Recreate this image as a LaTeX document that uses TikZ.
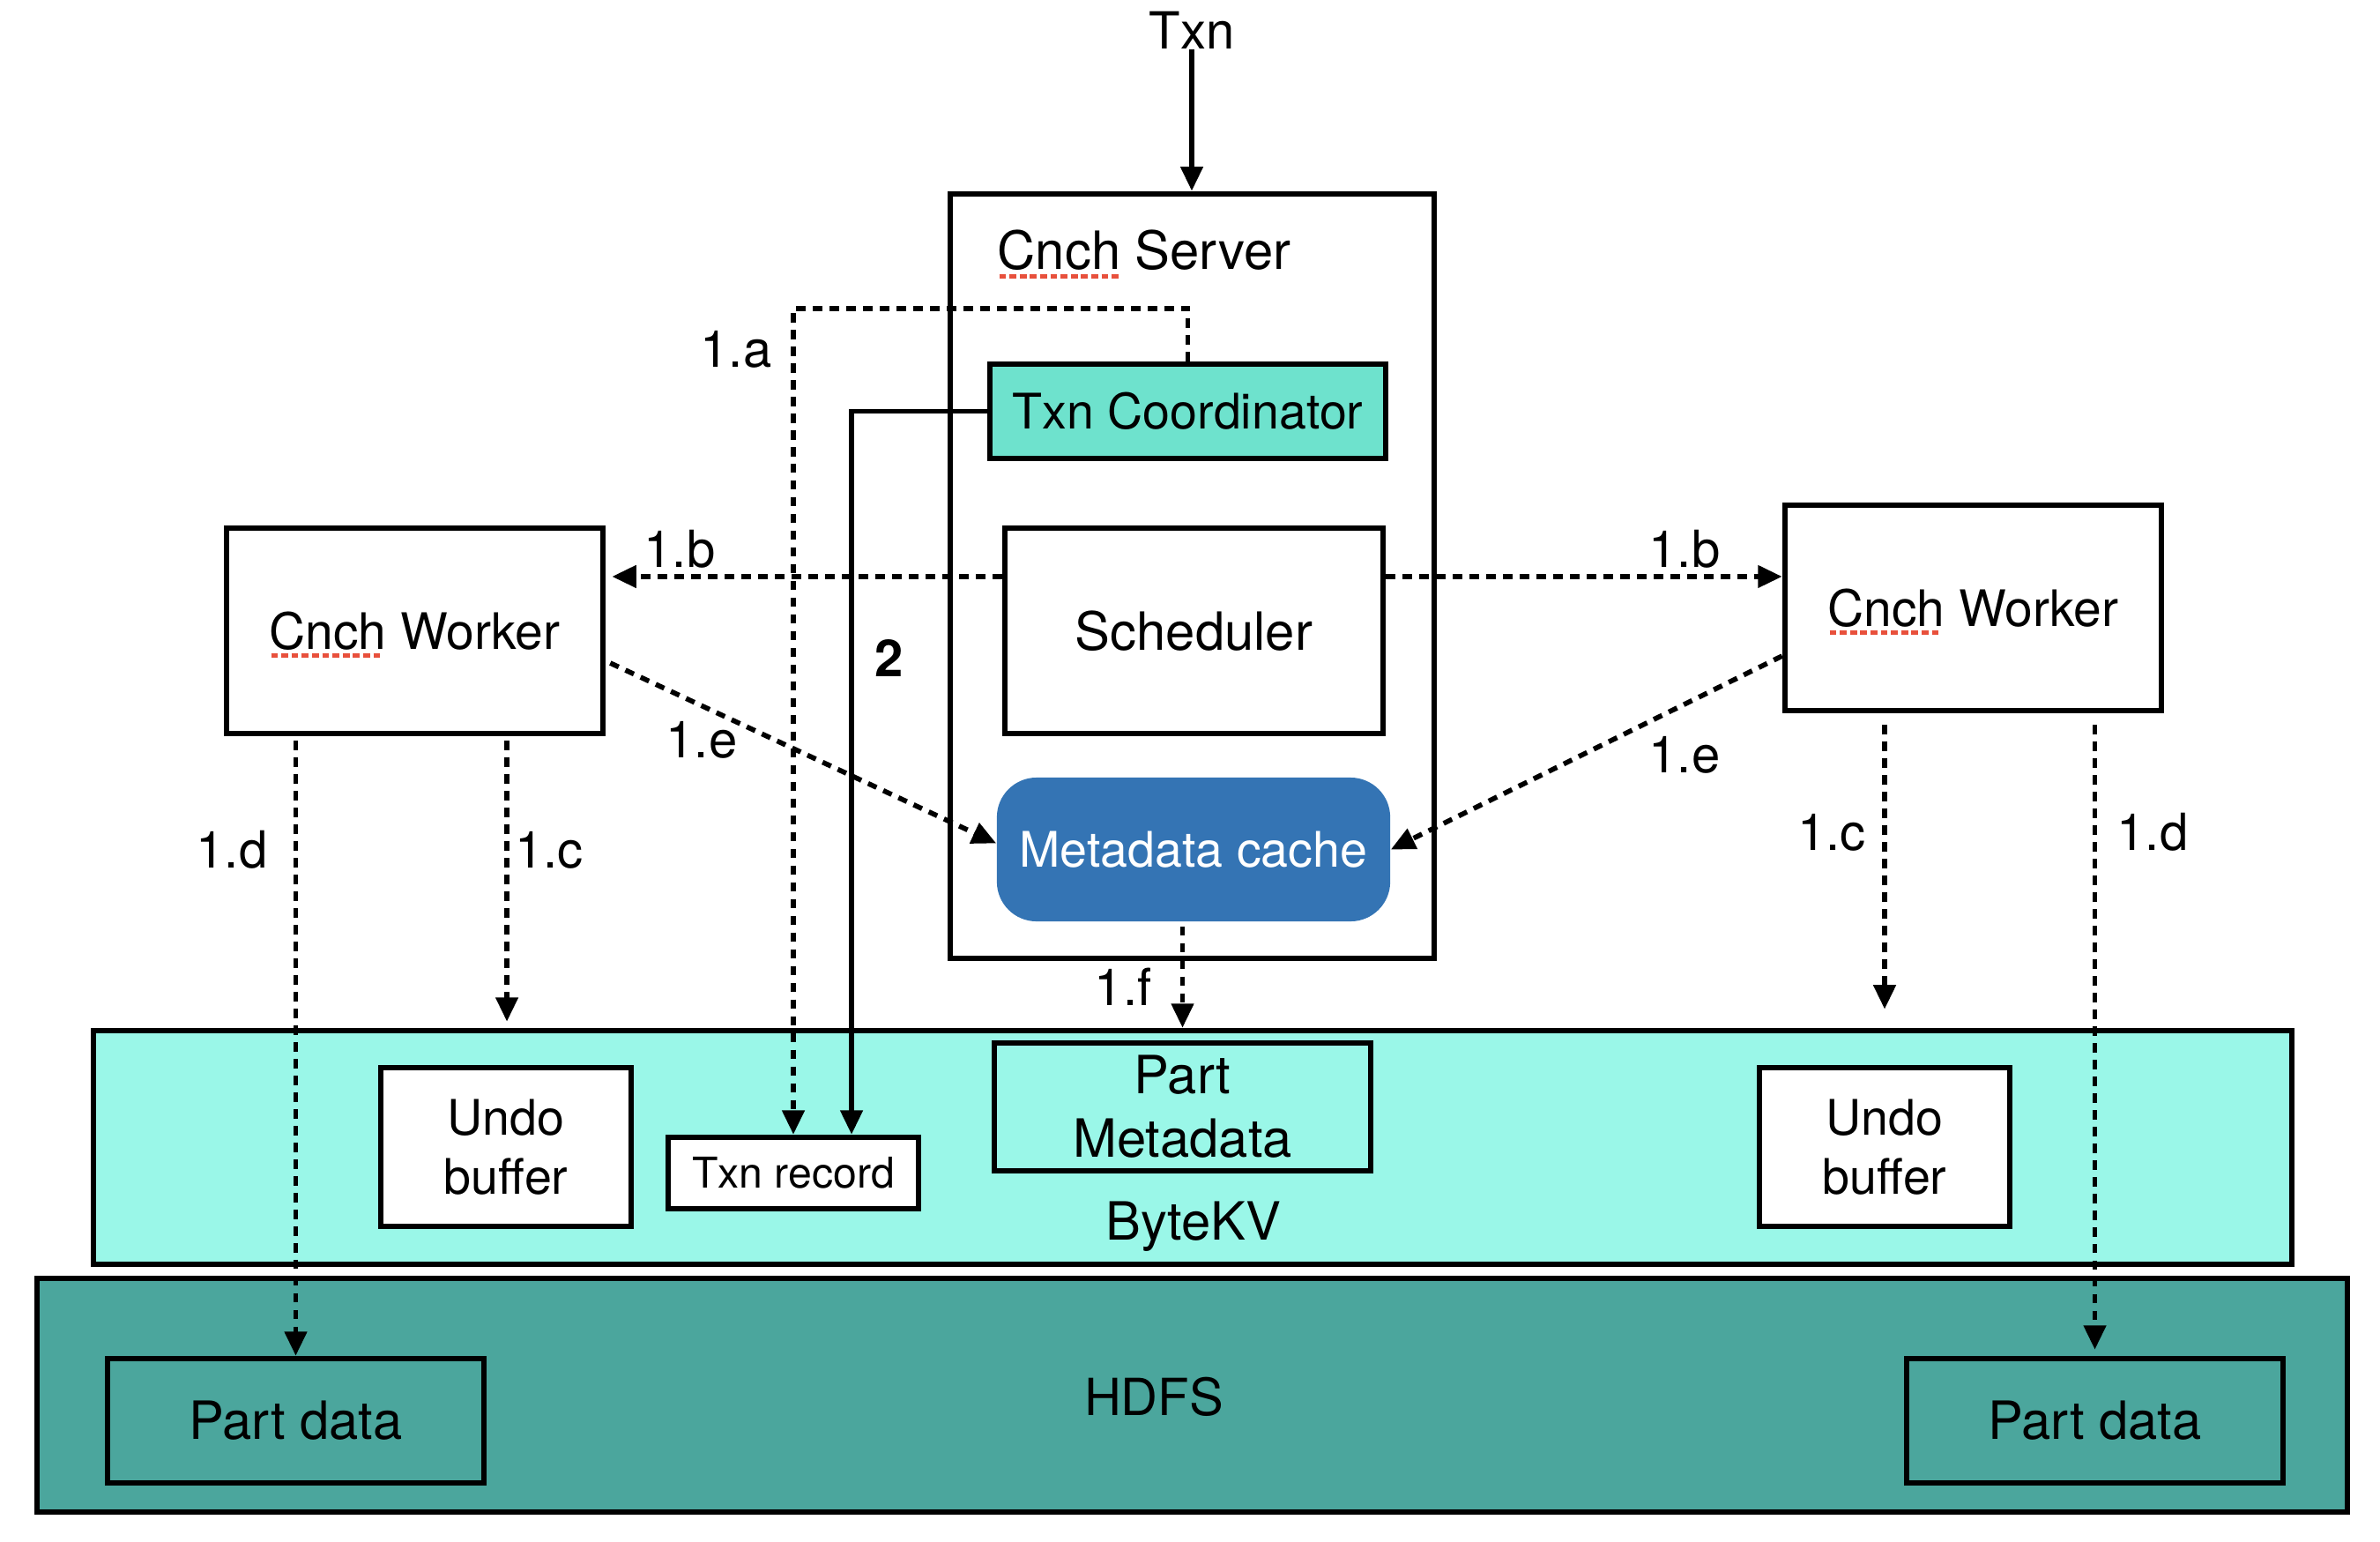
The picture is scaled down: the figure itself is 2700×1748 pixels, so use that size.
\documentclass[tikz,border=0pt]{standalone}
\usepackage{fontspec}
\setmainfont{TeX Gyre Heros}
\usetikzlibrary{arrows.meta,calc}

\definecolor{coordfill}{RGB}{110,226,205}
\definecolor{cachefill}{RGB}{52,116,180}
\definecolor{kvfill}{RGB}{154,247,232}
\definecolor{hdfsfill}{RGB}{75,166,157}
\definecolor{spellred}{RGB}{232,80,60}

\newsavebox\squigbox
\newcommand\squig[1]{\sbox\squigbox{#1}\rlap{\smash{\raisebox{-2.9pt}{\textcolor{spellred}{\hbox to \wd\squigbox{\leaders\hbox to 3.3pt{\hss\rule{2.2pt}{1.5pt}\hss}\hfill}}}}}\usebox\squigbox}

\tikzset{
  box/.style={draw, line width=1.8pt, inner sep=0pt, align=center, font=\fontsize{16.5}{19.5}\selectfont},
  lbl/.style={inner sep=0pt, font=\fontsize{16.5}{19.5}\selectfont},
  dasharrow/.style={line width=1.6pt, dash pattern=on 3pt off 2.4pt, -{Triangle[length=7.8pt,width=7pt]}},
  solidarrow/.style={line width=1.6pt, -{Triangle[length=7.8pt,width=7pt]}},
}

\begin{document}
\begin{tikzpicture}[x=0.01cm, y=-0.01cm]
	%%%%% START %%%%%
	\useasboundingbox (0,0) rectangle (2700,1748);
	
	% storage layers
	\node[box, fill=kvfill, minimum width=24.92cm, minimum height=2.65cm] (bytekv) at (1353,1301.5) {};
	\node[box, fill=hdfsfill, minimum width=26.19cm, minimum height=2.65cm] (hdfs) at (1352.5,1582.5) {};
	\node[lbl, font=\fontsize{17}{20}\selectfont] (kvtxt) at (1354,1391) {ByteKV};
	\node[lbl] (hdfstxt) at (1309,1584) {HDFS};
	
	\node[box, fill=white, minimum width=2.84cm, minimum height=1.8cm, font=\fontsize{15.8}{19}\selectfont] (undol) at (574,1301) {Undo\\buffer};
	\node[box, fill=white, minimum width=2.84cm, minimum height=0.81cm, font=\fontsize{13.7}{16}\selectfont] (rec) at (900,1330.5) {Txn record};
	\node[box, minimum width=4.27cm, minimum height=1.45cm, font=\fontsize{17}{20.5}\selectfont] (pm) at (1341.5,1255.5) {Part\\Metadata};
	\node[box, fill=white, minimum width=2.84cm, minimum height=1.8cm, font=\fontsize{15.8}{19}\selectfont] (undor) at (2138,1301) {Undo\\buffer};
	
	\node[box, minimum width=4.27cm, minimum height=1.41cm, font=\fontsize{17}{20}\selectfont] (pdl) at (335.5,1611.5) {Part data};
	\node[box, minimum width=4.27cm, minimum height=1.41cm, font=\fontsize{17}{20}\selectfont] (pdr) at (2376.5,1611.5) {Part data};
	
	% server
	\node[lbl] (txn) at (1352,34) {Txn};
	\node[box, minimum width=5.49cm, minimum height=8.67cm] (server) at (1352.5,653.5) {};
	\node[lbl, anchor=west, font=\fontsize{17}{20}\selectfont] (servertxt) at (1131,284) {\squig{Cnch} Server};
	\node[box, fill=coordfill, minimum width=4.49cm, minimum height=1.07cm, font=\fontsize{15.8}{19}\selectfont] (coord) at (1347.5,466.5) {Txn Coordinator};
	\node[box, minimum width=4.29cm, minimum height=2.33cm, font=\fontsize{17}{20}\selectfont] (sched) at (1354.5,715.5) {Scheduler};
	\node[draw=none, fill=cachefill, rounded corners=0.45cm, minimum width=4.46cm, minimum height=1.63cm, inner sep=0pt, text=white, font=\fontsize{15.8}{19}\selectfont] (cache) at (1354,963.5) {Metadata cache};
	
	% workers
	\node[box, minimum width=4.27cm, minimum height=2.33cm, font=\fontsize{16.2}{19}\selectfont] (lworker) at (470.5,715.5) {\squig{Cnch} Worker};
	\node[box, minimum width=4.27cm, minimum height=2.33cm, font=\fontsize{16.2}{19}\selectfont] (rworker) at (2238.5,689.5) {\squig{Cnch} Worker};
	
	% arrows
	\draw[solidarrow] (txn.south) -- (txn.south |- server.north);
	\draw[dasharrow] (coord.north) -- ++(0,-60) -| (rec.north);
	\coordinate (in2) at ([xshift=0.66cm]rec.north);
	\draw[solidarrow] (coord.west) -| (in2);
	
	\draw[dasharrow, shorten >=2pt] ([yshift=0.615cm]sched.west) -- ([yshift=0.615cm]lworker.east);
	\draw[dasharrow] ([yshift=0.615cm]sched.east) -- ([yshift=0.615cm]sched.east -| rworker.west);
	\draw[dasharrow] ([yshift=-0.365cm,xshift=0.05cm]lworker.east) -- ([yshift=0.07cm]cache.west);
	\draw[dasharrow] ([yshift=-0.545cm]rworker.west) -- (cache.east);
	
	\coordinate (lc) at ([xshift=1.045cm]lworker.south);
	\draw[dasharrow, shorten >=2pt] ([yshift=-0.05cm]lc) -- (lc |- bytekv.north);
	\draw[dasharrow] ([yshift=-0.05cm]pdl.north |- lworker.south) -- (pdl.north);
	\draw[dasharrow, shorten >=6pt] ([yshift=-0.13cm]undor.north |- rworker.south) -- (undor.north |- bytekv.north);
	\draw[dasharrow, shorten >=2pt] ([yshift=-0.13cm]pdr.north |- rworker.south) -- (pdr.north);
	\draw[dasharrow] ([yshift=-0.05cm]pm.north |- cache.south) -- (pm.north |- bytekv.north);
	
	% step labels
	\node[lbl] (la) at (835,396) {1.a};
	\node[lbl, font=\bfseries\fontsize{16.5}{19.5}\selectfont] (l2) at (1009,746) {2};
	\node[lbl] (lbl) at (771,623) {1.b};
	\node[lbl] (lbr) at (1911,623) {1.b};
	\node[lbl] (lel) at (796,839) {1.e};
	\node[lbl] (ler) at (1911,856) {1.e};
	\node[lbl] (lcl) at (623,964) {1.c};
	\node[lbl] (lcr) at (2078,944) {1.c};
	\node[lbl] (ldl) at (263,964) {1.d};
	\node[lbl] (ldr) at (2442,944) {1.d};
	\node[lbl] (lf) at (1274,1119) {1.f};
	%%%%% END %%%%%
\end{tikzpicture}
\end{document}
